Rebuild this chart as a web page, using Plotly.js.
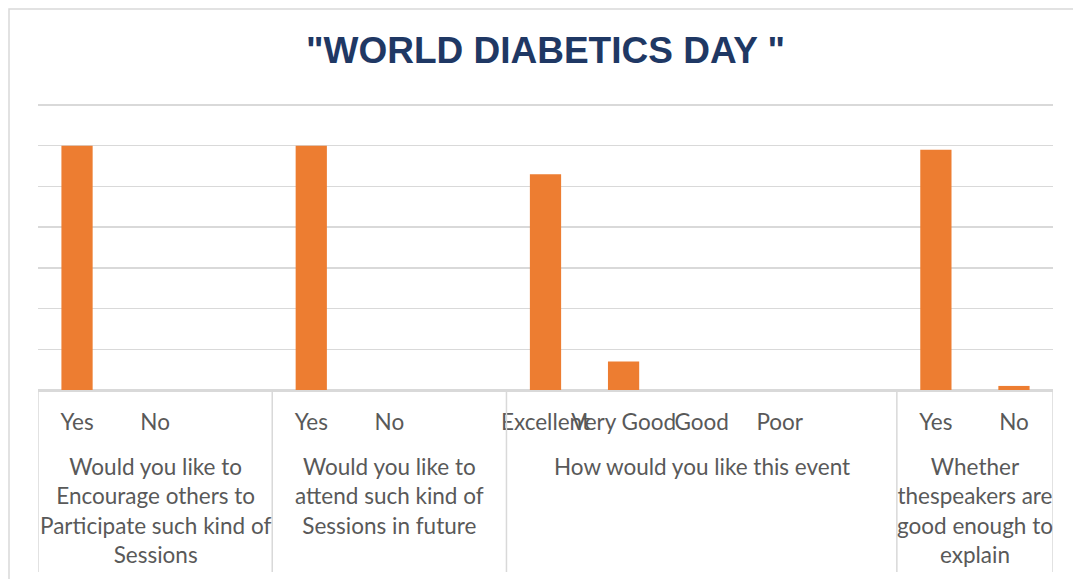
<!DOCTYPE html>
<html>
<head>
<meta charset="utf-8">
<script src="https://cdn.plot.ly/plotly-3.0.1.min.js"></script>
<style>html,body{margin:0;padding:0;background:#fff;}#chart{width:1073px;height:579px;}</style>
</head>
<body>
<div id="chart"></div>
<script>
const chartTitle = '"WORLD DIABETICS DAY "';
const questions = [
  'Would you like to<br>Encourage others to<br>Participate such kind of<br>Sessions',
  'Would you like to<br>attend such kind of<br>Sessions in future',
  'How would you like this event',
  'Whether<br>thespeakers are<br>good enough to<br>explain'
];
const answers = ['Yes','No','','Yes','No','','Excellent','Very Good','Good','Poor','','Yes','No'];
const questionIndex = [0,0,0,1,1,1,2,2,2,2,2,3,3];
const responses = [120,0,null,120,0,null,106,14,0,0,null,118,2];

// layout helpers (pixel -> paper)
const W = 1073, H = 579;
const yMax = 140, yTop = 141;
const basePx = 390, topGridPx = 105;
const pxPerUnit = (basePx - topGridPx) / yMax;
const mL = 38, mR = 20;
const mB = H - basePx;
const mT = Math.round(basePx - yTop * pxPerUnit);
const plotW = W - mL - mR, plotH = H - mT - mB;
const px2x = p => (p - mL) / plotW;
const py2y = p => (basePx - p) / plotH;

const keys = answers.map((a, i) => 'q' + questionIndex[i] + '_' + i);

const grey = '#d9d9d9';
const labelColor = '#595959';
const labelFont = {family: 'Lato, "Open Sans", sans-serif', size: 22.5, color: labelColor};

const shapes = [];
const annotations = [];
const bounds = [-0.5];
questions.forEach((q, qi) => {
  const idx = questionIndex.map((v, i) => v === qi ? i : -1).filter(i => i >= 0);
  const lo = Math.min(...idx), hi = Math.max(...idx);
  bounds.push(hi + 0.5);
  annotations.push({
    x: (lo + hi) / 2, xref: 'x', y: py2y(451), yref: 'paper',
    text: q, showarrow: false, xanchor: 'center', yanchor: 'top',
    align: 'center', font: labelFont
  });
});
bounds.forEach(b => shapes.push({
  type: 'line', xref: 'x', yref: 'paper', x0: b, x1: b, y0: 0, y1: py2y(572),
  line: {color: grey, width: 1.5}
}));
// outer chart frame
shapes.push({
  type: 'rect', xref: 'paper', yref: 'paper',
  x0: px2x(9), x1: px2x(1100), y0: py2y(620), y1: py2y(9),
  line: {color: grey, width: 1.5}, fillcolor: 'rgba(0,0,0,0)', layer: 'below'
});

const trace = {
  type: 'bar', x: keys, y: responses,
  marker: {color: '#ED7D31', line: {width: 0}},
  hoverinfo: 'skip'
};

const layout = {
  width: W, height: H,
  margin: {l: mL, r: mR, t: mT, b: mB},
  paper_bgcolor: '#fff', plot_bgcolor: '#fff',
  title: {
    text: chartTitle, x: 0.5, xref: 'paper', xanchor: 'center',
    y: 1 - 50 / H, yref: 'container', yanchor: 'middle',
    font: {family: '"Liberation Sans", Arial, sans-serif', size: 37, weight: 'bold', color: '#1F3864'}
  },
  bargap: 0.6,
  showlegend: false,
  xaxis: {
    type: 'category', tickvals: keys, ticktext: answers, tickangle: 0,
    range: [-0.5, answers.length - 0.5], autorange: false,
    ticks: 'outside', ticklen: 11, tickcolor: 'rgba(0,0,0,0)',
    tickfont: labelFont, showline: true, linecolor: grey, linewidth: 1.5,
    showgrid: false, fixedrange: true, automargin: false
  },
  yaxis: {
    range: [0, yTop], tick0: 0, dtick: 20, showticklabels: false,
    showgrid: true, gridcolor: grey, gridwidth: 1.5,
    zeroline: true, zerolinecolor: grey, zerolinewidth: 1.5,
    fixedrange: true, automargin: false
  },
  shapes: shapes,
  annotations: annotations
};

Plotly.newPlot('chart', [trace], layout, {displayModeBar: false, staticPlot: true});
</script>
</body>
</html>
